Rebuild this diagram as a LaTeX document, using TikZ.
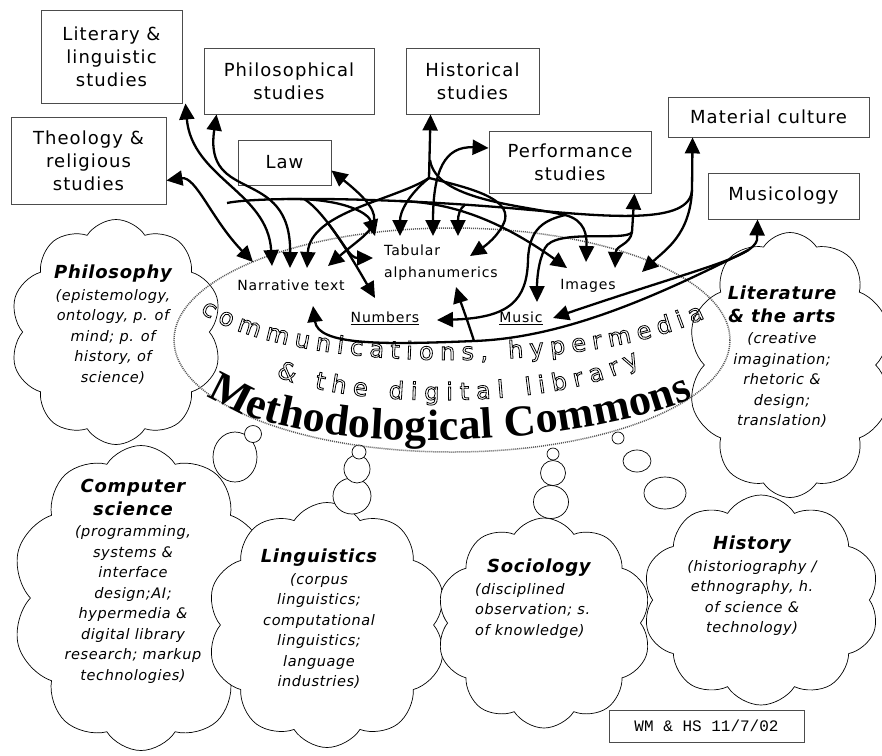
\documentclass[tikz,border=0pt]{standalone}
\usepackage{fontspec}
\setmainfont{DejaVu Sans}
\newfontfamily\boxfont[LetterSpace=6]{DejaVu Sans}
\newfontfamily\cloudfont[LetterSpace=4]{DejaVu Sans}
\newfontfamily\commfont{DejaVu Sans}
\newfontfamily\methfont{Liberation Serif}
\newfontfamily\sigfont{Liberation Mono}
\usetikzlibrary{arrows.meta,shapes.symbols,decorations.text}

\newcommand\hollowon{\special{pdf:literal direct 1 Tr 0.8 w}}
\newcommand\disctitle[1]{{\bfseries\fontsize{18}{23}\selectfont #1}}

\tikzset{
  field/.style={draw=black!70, line width=0.9pt, fill=white, align=center, inner sep=0pt,
    font=\boxfont\fontsize{18}{23}\selectfont},
  datum/.style={inner sep=1pt, font=\boxfont\fontsize{14}{22}\selectfont},
  puff/.style={cloud, cloud puffs=10, cloud puff arc=115, draw, line width=0.7pt, fill=white, inner sep=0pt},
  bubble/.style={draw, line width=0.7pt, fill=white},
  disc/.style={align=center, inner sep=0pt, font=\cloudfont\itshape\fontsize{14.5}{20.5}\selectfont},
  commons/.style={draw=black!65, line width=1.5pt, dash pattern=on 1pt off 1pt},
  link/.style={line width=2.3pt, {Triangle[length=16pt,width=15pt]}-{Triangle[length=16pt,width=15pt]}},
  branch/.style={line width=2.3pt, -{Triangle[length=16pt,width=15pt]}},
  trunk/.style={line width=2.3pt},
}

\begin{document}
\begin{tikzpicture}[x=1pt,y=-1pt]
\useasboundingbox (0,0) rectangle (882,755);
\fill[white] (0,0) rectangle (882,755);

% disciplines as clouds
\node[puff, minimum width=212pt, minimum height=225pt] (philcloud) at (116,332) {};
\node[puff, minimum width=205pt, minimum height=265pt] (litcloud) at (790,365) {};
\node[puff, minimum width=258pt, minimum height=305pt] (cscloud) at (141,598) {};
\node[puff, minimum width=240pt, minimum height=245pt] (lingcloud) at (327,625) {};
\node[puff, minimum width=215pt, minimum height=210pt] (sociocloud) at (544,623) {};
\node[puff, minimum width=237pt, minimum height=210pt] (histcloud) at (761,600) {};

% thought bubbles
\draw[bubble] (235,457) ellipse [x radius=22, y radius=25];
\draw[bubble] (253,434) circle [radius=8.5];
\draw[bubble] (352,496) ellipse [x radius=19, y radius=18];
\draw[bubble] (357,469) ellipse [x radius=13, y radius=14];
\draw[bubble] (359,452) circle [radius=7];
\draw[bubble] (551,502) ellipse [x radius=17.5, y radius=16.5];
\draw[bubble] (553,473) circle [radius=12.5];
\draw[bubble] (553,454) circle [radius=6];
\draw[bubble] (665,493) ellipse [x radius=21, y radius=16];
\draw[bubble] (637,461) ellipse [x radius=14, y radius=11];
\draw[bubble] (618,438) circle [radius=6];

% the commons
\draw[commons] (452,340) ellipse [x radius=278, y radius=112];
\path[decorate, decoration={text along path, text align={fit to path},
  text={|\commfont\fontsize{24}{24}\selectfont\hollowon|communications, hypermedia}}]
  (200,312) .. controls (290,375) and (590,375) .. (705,318);
\path[decorate, decoration={text along path, text align={fit to path},
  text={|\commfont\fontsize{24}{24}\selectfont\hollowon|{\&} the digital library}}]
  (276,376) .. controls (350,410) and (560,410) .. (640,364);
\path[decorate, decoration={text along path, text align={fit to path},
  text={|\methfont\bfseries\fontsize{44}{44}\selectfont|Methodological Commons}}]
  (207,395) .. controls (300,462) and (580,447) .. (693,398);

% cloud texts
\node[disc, anchor=north] (philtxt) at (113,265) {\disctitle{Philosophy}\\[1pt]
  (epistemology,\\ontology, p. of\\mind; p. of\\history, of\\science)};
\node[disc, anchor=north] (cstxt) at (133,479) {\disctitle{Computer}\\[2pt]\disctitle{science}\\[1pt]
  (programming,\\systems \&\\interface\\design;AI;\\hypermedia \&\\digital library\\research; markup\\technologies)};
\node[disc, anchor=north] (lingtxt) at (319,549) {\disctitle{Linguistics}\\[1pt]
  (corpus\\linguistics;\\computational\\linguistics;\\language\\industries)};
\node[disc, anchor=north west, align=left] (sociotxt) at (475,559) {\hspace*{12pt}\disctitle{Sociology}\\[1pt]
  (disciplined\\observation; s.\\of knowledge)};
\node[disc, anchor=north] (histtxt) at (752,536) {\disctitle{History}\\[1pt]
  (historiography /\\ethnography, h.\\of science \&\\technology)};
\node[disc, anchor=north] (littxt) at (782,286) {\disctitle{Literature}\\[2pt]\disctitle{\& the arts}\\[1pt]
  (creative\\imagination;\\rhetoric \&\\design;\\translation)};

% studies
\node[field, minimum width=141pt, minimum height=93pt] (lit) at (111.5,56.5) {Literary \&\\linguistic\\studies};
\node[field, minimum width=170pt, minimum height=66pt] (phil) at (289,81) {Philosophical\\studies};
\node[field, minimum width=155pt, minimum height=87pt] (theo) at (88.5,160.5) {Theology \&\\religious\\studies};
\node[field, minimum width=93pt, minimum height=45pt] (law) at (284.5,162.5) {Law};
\node[field, minimum width=133pt, minimum height=66pt] (hist) at (472.5,81) {Historical\\studies};
\node[field, minimum width=162pt, minimum height=62pt] (perf) at (570,162) {Performance\\studies};
\node[field, minimum width=201pt, minimum height=40pt] (mat) at (768.5,117) {Material culture};
\node[field, minimum width=151pt, minimum height=46pt] (musi) at (783.5,196) {Musicology};

% kinds of data
\node[datum] (narr) at (291,285) {Narrative text};
\node[datum, align=left] (tab) at (441,263) {Tabular\\alphanumerics};
\node[datum] (img) at (588,286) {Images};
\node[datum] (num) at (385,318) {\underline{Numbers}};
\node[datum] (mus) at (521,318) {\underline{Music}};

\node[draw=black!70, line width=0.9pt, minimum width=195pt, minimum height=32pt,
  font=\sigfont\fontsize{16}{16}\selectfont] (sig) at (706.5,726) {WM \& HS 11/7/02};

% arrow tips at the data
\coordinate (n1) at (253,262);
\coordinate (n2) at (272,266);
\coordinate (n3) at (290,268);
\coordinate (n4) at (307,268);
\coordinate (n5) at (328,266);
\coordinate (n6) at (313,306);
\coordinate (t1) at (375,236);
\coordinate (t2) at (400,236);
\coordinate (t3) at (433,236);
\coordinate (t4) at (458,236);
\coordinate (t5) at (470,256);
\coordinate (t6) at (373,258);
\coordinate (t7) at (456,287);
\coordinate (i1) at (567,268);
\coordinate (i2) at (586,262);
\coordinate (i3) at (615,268);
\coordinate (i4) at (642,272);
\coordinate (nb1) at (375,298);
\coordinate (nb2) at (437,320);
\coordinate (m1) at (537,302);
\coordinate (m2) at (553,318);
% forks
\coordinate (hfork) at (429,178);
\coordinate (hfork2) at (430,160);
\coordinate (gjoin) at (565,215);
\coordinate (mfork) at (692,190);
\coordinate (busend) at (227,203);
\coordinate (pfork) at (632,232);
\coordinate (sfork) at (757,240);
\coordinate (lfork) at (474,341);

\draw[link] ([yshift=-20pt]theo.east) .. controls (196,176) and (212,220) .. (n1);
\draw[link] ([xshift=3pt]lit.south east) .. controls (192,178) and (268,192) .. (n2);
\draw[link] ([xshift=13pt]phil.south west) .. controls (203,205) and (291,165) .. (n3);
\draw[link] ([yshift=-8pt]law.east) .. controls (396,222) and (372,228) .. (n5);
\draw[link] ([xshift=25pt]hist.south west) -- (hfork) .. controls (395,200) and (310,212) .. (n4);
\draw[branch] (hfork) .. controls (408,195) and (400,212) .. (t2);
\draw[branch] (hfork2) .. controls (436,200) and (520,205) .. (gjoin) .. controls (585,220) and (587,235) .. (i2);
\draw[branch] (hfork) .. controls (470,188) and (510,198) .. (505,220) .. controls (500,235) and (485,246) .. (t5);
\draw[link] ([yshift=14pt]perf.west) .. controls (445,146) and (433,170) .. (t3);
\draw[link] ([xshift=25pt]mat.south west) -- (mfork) .. controls (690,235) and (665,250) .. (i4);
\draw[trunk] (mfork) .. controls (690,225) and (610,217) .. (520,209)
  .. controls (400,198) and (260,196) .. (busend)
  coordinate[pos=0.15] (bfork1) coordinate[pos=0.33] (bfork4)
  coordinate[pos=0.62] (bfork3) coordinate[pos=0.68] (bfork2);
\draw[branch] (bfork1) .. controls (460,208) and (458,215) .. (t4);
\draw[branch] (bfork2) .. controls (340,198) and (368,212) .. (t1);
\draw[branch] (bfork3) .. controls (325,212) and (350,255) .. (nb1) coordinate[pos=0.35] (nbfork);
\draw[branch] (nbfork) .. controls (345,245) and (350,258) .. (t6);
\draw[branch] (bfork4) .. controls (450,202) and (500,220) .. (i1);
\draw[link] ([xshift=-17pt]perf.south east) -- (pfork) .. controls (627,242) and (555,228) .. (545,248)
  .. controls (538,262) and (537,280) .. (m1);
\draw[branch] (pfork) .. controls (630,245) and (616,245) .. (i3);
\draw[branch] (gjoin) .. controls (545,220) and (529,228) .. (528,260) .. controls (527,300) and (510,318) .. (nb2);
\draw[link] ([xshift=50pt]musi.south west) -- (sfork) .. controls (752,258) and (700,268) .. (m2) coordinate[pos=0.2] (sfork2);
\draw[branch] (sfork2) .. controls (650,300) and (560,338) .. (lfork) .. controls (380,345) and (318,345) .. (n6);
\draw[branch] (lfork) .. controls (468,322) and (460,300) .. (t7);
\end{tikzpicture}
\end{document}
